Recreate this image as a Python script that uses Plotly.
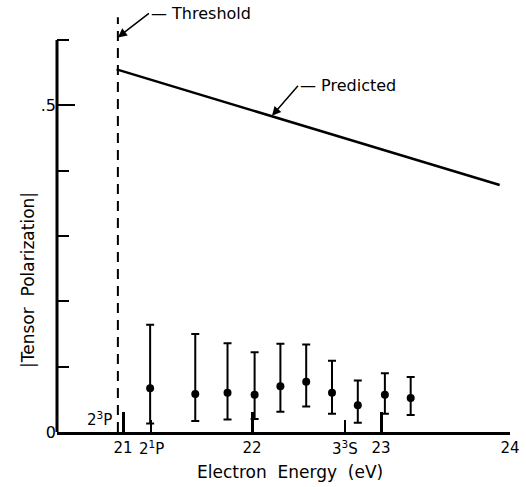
import plotly.graph_objects as go

# ---- data ----
energy = [21.21, 21.56, 21.81, 22.02, 22.22, 22.42, 22.62, 22.82, 23.03, 23.23]
polarization = [0.067, 0.058, 0.060, 0.057, 0.070, 0.077, 0.060, 0.041, 0.057, 0.052]
err_plus = [0.097, 0.092, 0.076, 0.065, 0.065, 0.057, 0.049, 0.038, 0.033, 0.032]
err_minus = [0.054, 0.041, 0.041, 0.037, 0.039, 0.038, 0.032, 0.027, 0.029, 0.026]

predicted_energy = [20.95, 23.92]
predicted_pol = [0.555, 0.378]

threshold_energy = 20.96
threshold_pol = [0.0, 0.635]

x_major_ticks = [21, 22, 23, 24]
x_major_text = ["21", "22", "23", "24"]
level_energy = [21.22, 22.72]
level_text = ["2<sup>1</sup>P", "3<sup>3</sup>S"]
y_major_ticks = [0, 0.5]
y_major_text = ["0", ".5"]
y_minor_ticks = [0.1, 0.2, 0.3, 0.4, 0.6]

FONT = "DejaVu Sans"

fig = go.Figure()

fig.add_trace(go.Scatter(
    x=[threshold_energy, threshold_energy], y=threshold_pol, mode="lines",
    line=dict(color="black", width=2, dash="10px,7px"), hoverinfo="skip"))

fig.add_trace(go.Scatter(
    x=predicted_energy, y=predicted_pol, mode="lines",
    line=dict(color="black", width=2.5), hoverinfo="skip"))

fig.add_trace(go.Scatter(
    x=energy, y=polarization, mode="markers",
    marker=dict(color="black", size=8),
    error_y=dict(type="data", symmetric=False, array=err_plus, arrayminus=err_minus,
                 color="black", thickness=2, width=4)))

# y axis line (only up to 0.6)
fig.add_shape(type="line", xref="paper", yref="y", x0=0, x1=0, y0=0, y1=0.6,
              line=dict(color="black", width=3))

# labelled arrows (leader dash + text)
fig.add_annotation(x=threshold_energy, y=0.604, xref="x", yref="y",
                   text="\u2014 Threshold", showarrow=True, ax=31, ay=-24,
                   xanchor="left", yanchor="middle",
                   arrowhead=2, arrowsize=1.2, arrowwidth=1.5, arrowcolor="black",
                   font=dict(family=FONT, size=16, color="black"))

fig.add_annotation(x=22.155, y=0.484, xref="x", yref="y",
                   text="\u2014 Predicted", showarrow=True, ax=26, ay=-30,
                   xanchor="left", yanchor="middle",
                   arrowhead=2, arrowsize=1.2, arrowwidth=1.5, arrowcolor="black",
                   font=dict(family=FONT, size=16, color="black"))

# level labels
for e, t in zip(level_energy, level_text):
    fig.add_annotation(x=e, y=0, xref="x", yref="y", text=t, showarrow=False,
                       xanchor="center", yanchor="top", yshift=-4,
                       font=dict(family=FONT, size=15, color="black"))
fig.add_annotation(x=threshold_energy, y=0.02, xref="x", yref="y",
                   text="2<sup>3</sup>P", showarrow=False, xanchor="right",
                   yanchor="middle", xshift=-4,
                   font=dict(family=FONT, size=15, color="black"))

# axis titles
fig.add_annotation(x=(28 - 57) / 453, y=(432 - 280) / 415, xref="paper", yref="paper",
                   text="|Tensor&#160; Polarization|", textangle=-90, showarrow=False,
                   xanchor="center", yanchor="middle",
                   font=dict(family=FONT, size=17, color="black"))
fig.add_annotation(x=(290 - 57) / 453, y=(432 - 472) / 415, xref="paper", yref="paper",
                   text="Electron&#160; Energy&#160; (eV)", showarrow=False,
                   xanchor="center", yanchor="middle",
                   font=dict(family=FONT, size=17, color="black"))

fig.update_layout(
    width=526, height=487,
    margin=dict(l=57, r=16, t=17, b=55),
    paper_bgcolor="white", plot_bgcolor="white",
    showlegend=False,
    font=dict(family=FONT, size=15, color="black"),
    xaxis=dict(range=[20.488, 24], tickvals=x_major_ticks, ticktext=x_major_text,
               ticks="inside", ticklen=20, tickwidth=2.5, tickcolor="black",
               showline=True, linewidth=3, linecolor="black",
               showgrid=False, zeroline=False, automargin=False,
               minor=dict(tickvals=level_energy, ticks="inside", ticklen=12,
                          tickwidth=2, tickcolor="black", showgrid=False)),
    yaxis=dict(range=[0, 0.6352], tickvals=y_major_ticks, ticktext=y_major_text,
               ticks="inside", ticklen=18, tickwidth=2, tickcolor="black",
               showline=False, showgrid=False, zeroline=False, automargin=False,
               minor=dict(tickvals=y_minor_ticks, ticks="inside", ticklen=12,
                          tickwidth=2, tickcolor="black", showgrid=False),
               tickfont=dict(size=16)),
)

fig.write_html("out.html")
